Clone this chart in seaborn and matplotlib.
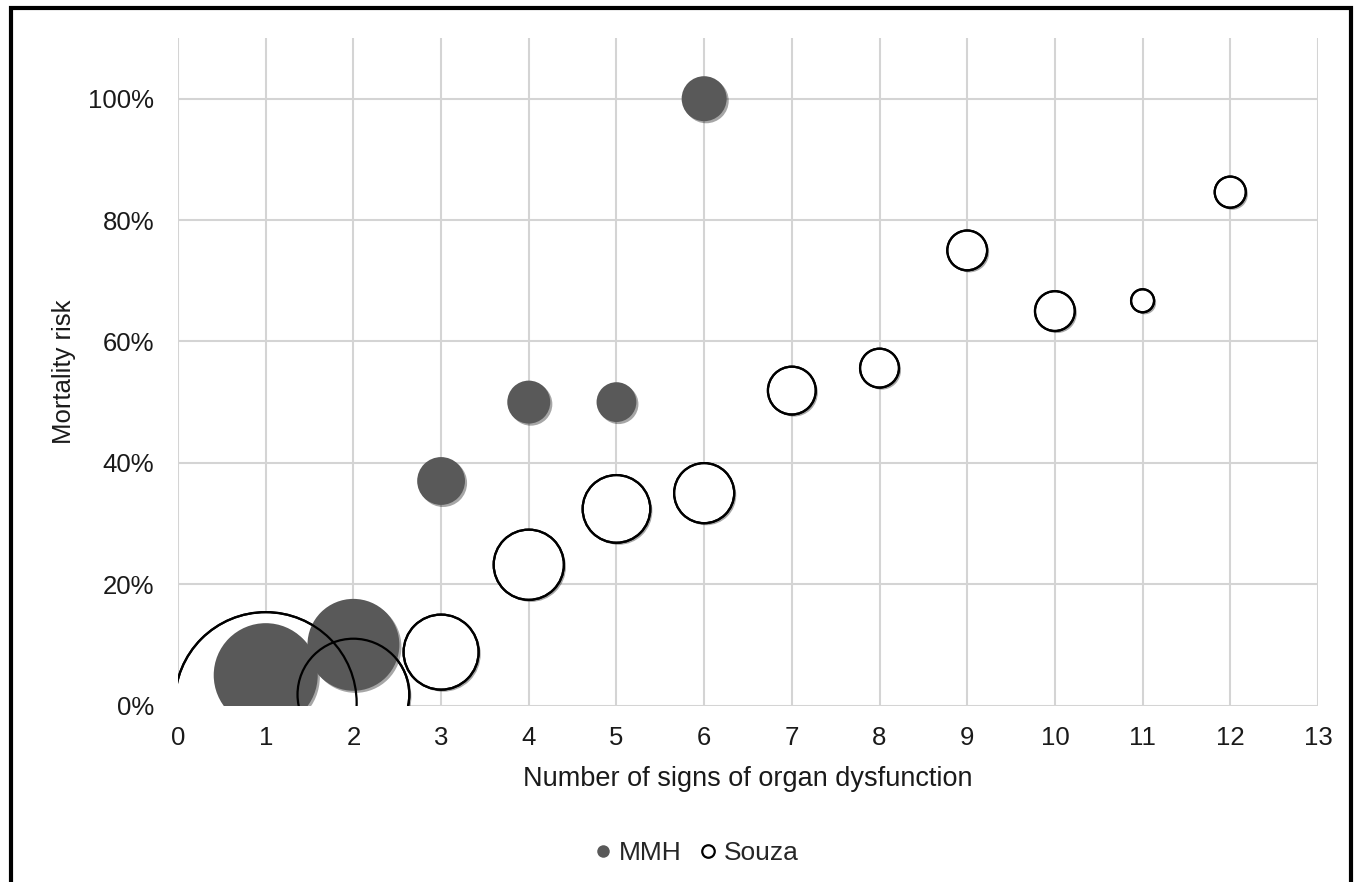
import numpy as np
import pandas as pd
import matplotlib
matplotlib.use("Agg")
import matplotlib.pyplot as plt
import matplotlib.patheffects as pe
from matplotlib.lines import Line2D
from matplotlib.patches import Rectangle
from matplotlib.ticker import PercentFormatter, MultipleLocator
import seaborn as sns

# Values (bubble size = relative group size, estimated)
mmh_signs = [1, 2, 3, 4, 5, 6]
mmh_risk = [0.05, 0.10, 0.37, 0.50, 0.50, 1.00]
mmh_n = [61.5, 48, 13, 10.5, 9, 11.5]

souza_signs = [1, 2, 3, 4, 5, 6, 7, 8, 9, 10, 11, 12]
souza_risk = [0.004, 0.018, 0.088, 0.232, 0.324, 0.35, 0.519, 0.556, 0.75, 0.65, 0.667, 0.846]
souza_n = [188, 71, 32, 28, 26, 20.5, 13, 8.6, 9, 9, 3, 5.5]

series_labels = ["MMH", "Souza"]

mmh = pd.DataFrame({"signs": mmh_signs, "risk": mmh_risk, "n": mmh_n})
souza = pd.DataFrame({"signs": souza_signs, "risk": souza_risk, "n": souza_n})

sns.set_style("white")
plt.rcParams["font.family"] = ["Liberation Sans", "DejaVu Sans"]

fig = plt.figure(figsize=(13.58, 8.82), dpi=100)
ax = fig.add_axes([0.1311, 0.2001, 0.8394, 0.7568])

n_max = 200
size_range = (0, 91.2 * n_max)
shadow = [pe.SimplePatchShadow(offset=(1.5, -1.5), shadow_rgbFace="black", alpha=0.35), pe.Normal()]

# Souza: white fill first, then MMH, then Souza outlines on top
sns.scatterplot(data=souza, x="signs", y="risk", size="n", sizes=size_range,
                size_norm=(0, n_max), color="white", edgecolor="black",
                linewidth=1.6, legend=False, ax=ax, zorder=3)
ax.collections[-1].set_path_effects(shadow)

sns.scatterplot(data=mmh, x="signs", y="risk", size="n", sizes=size_range,
                size_norm=(0, n_max), color="#595959", edgecolor="none",
                linewidth=0, legend=False, ax=ax, zorder=4)
ax.collections[-1].set_path_effects(shadow)

sns.scatterplot(data=souza, x="signs", y="risk", size="n", sizes=size_range,
                size_norm=(0, n_max), facecolor="none", edgecolor="black",
                linewidth=1.6, legend=False, ax=ax, zorder=5)

ax.set_xlim(0, 13)
ax.set_ylim(0, 1.1)
ax.xaxis.set_major_locator(MultipleLocator(1))
ax.set_yticks(np.arange(0, 1.01, 0.2))
ax.yaxis.set_major_formatter(PercentFormatter(1.0, decimals=0))
ax.grid(True, color="#d4d4d4", linewidth=1.5)
ax.set_axisbelow(True)
for side in ax.spines:
    ax.spines[side].set_visible(False)
ax.tick_params(axis="both", length=0, labelsize=18.5, colors="#1a1a1a")
ax.tick_params(axis="x", pad=15)
ax.tick_params(axis="y", pad=17)

ax.set_xlabel("Number of signs of organ dysfunction", fontsize=19.5, color="#1a1a1a", labelpad=11)
ax.set_ylabel("Mortality risk", fontsize=18.5, color="#1a1a1a", labelpad=9)

handles = [
    Line2D([], [], marker="o", linestyle="none", markersize=9,
           markerfacecolor="#595959", markeredgecolor="none"),
    Line2D([], [], marker="o", linestyle="none", markersize=9,
           markerfacecolor="white", markeredgecolor="black", markeredgewidth=1.6),
]
fig.legend(handles, series_labels, loc="center", bbox_to_anchor=(694 / 1358, 1 - 853 / 882),
           ncol=2, frameon=False, fontsize=19, handletextpad=0.1, columnspacing=0.5,
           handlelength=1.0)

fig.patches.append(Rectangle((0.0081, -0.1), 0.9867, 1.0909, transform=fig.transFigure,
                             fill=False, edgecolor="black", linewidth=3, zorder=10))

fig.savefig("out.png", dpi=100)
